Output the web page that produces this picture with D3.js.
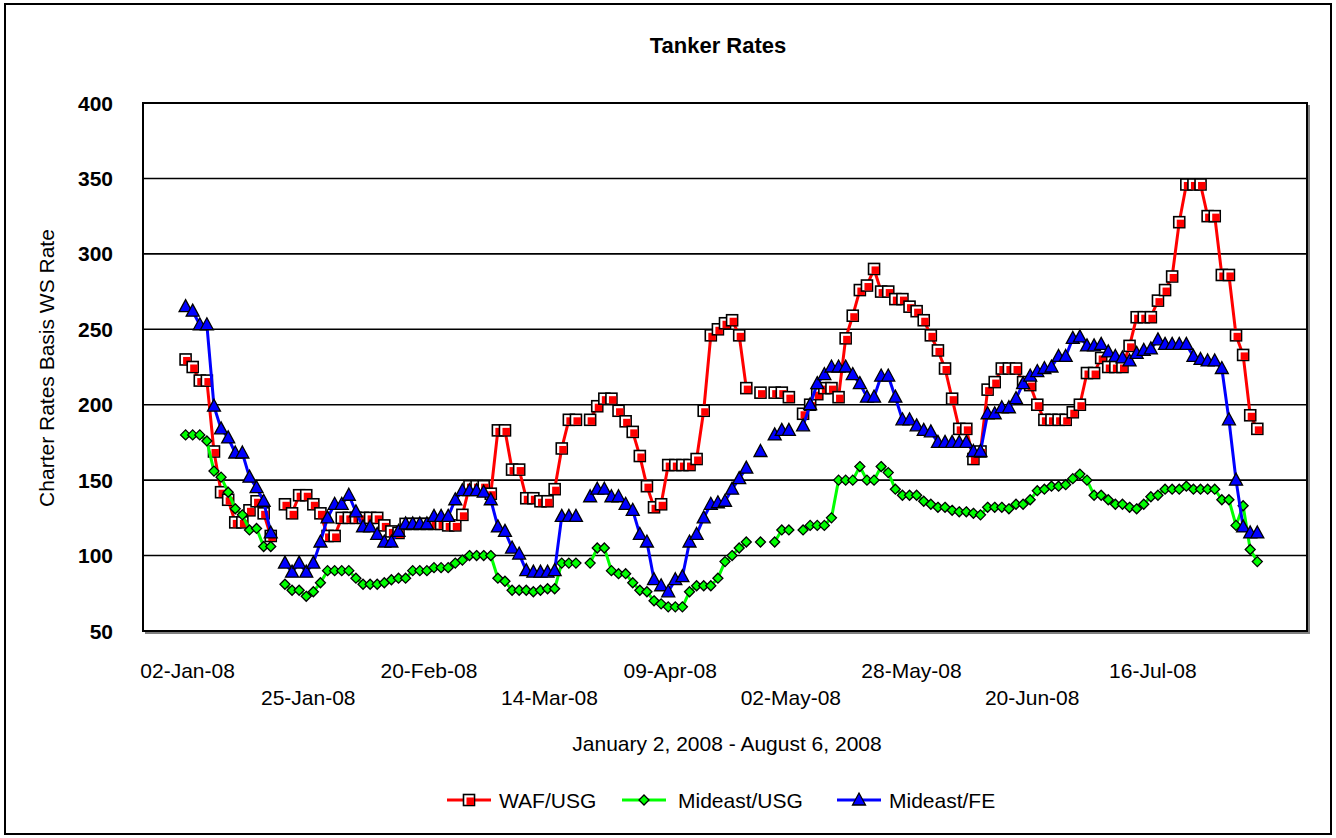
<!DOCTYPE html>
<html lang="en">
<head>
    <meta charset="UTF-8">
    <title>Tanker Rates</title>
    <script src="https://d3js.org/d3.v7.min.js"></script>
    <style>
        body { margin: 0; background: #fff; }
        text { font-family: "Liberation Sans", Arial, sans-serif; fill: #000; }
        .tick-y { font-size: 21px; font-weight: bold; }
        .tick-x { font-size: 21px; }
    </style>
</head>
<body>
<svg width="1336" height="838"></svg>
<script>
// business-day rows, null = blank row (holiday / no quote)
const waf = [230,225,216,216,169,142,137,122,122,130,136,128,113,null,
    134,128,140,140,134,128,113,113,125,125,125,125,125,125,120,116,115,121,121,121,121,121,121,120,120,127,
    146,146,146,141,183,183,157,157,138,138,136,136,144,171,190,190,null,
    190,199,204,204,196,189,182,166,146,132,134,160,160,160,160,164,196,246,250,254,256,246,211,null,
    208,null,208,208,205,null,
    194,200,207,211,211,205,244,259,276,279,290,275,275,270,270,265,262,256,246,236,224,204,184,184,164,169,
    210,215,224,224,224,215,213,200,190,190,190,190,195,200,221,221,231,225,225,225,239,258,258,258,269,276,285,
    321,346,346,346,325,325,286,286,246,233,193,184];

const meUsg = [180,180,180,176,156,152,142,131,127,117,118,106,106,null,
    81,77,77,73,76,82,90,90,90,90,85,81,81,81,82,84,85,85,90,90,90,92,92,92,95,97,
    100,100,100,100,85,83,77,77,77,76,77,78,78,95,95,95,null,
    95,105,105,90,88,88,82,77,76,70,68,66,66,66,76,80,80,80,85,96,100,105,109,null,
    109,null,109,117,117,null,
    117,120,120,120,125,150,150,150,159,150,150,159,155,144,140,140,140,136,134,132,132,130,129,129,128,127,
    132,132,132,131,134,134,137,143,144,146,146,147,151,154,150,140,140,137,134,134,132,131,134,139,140,144,144,
    144,146,144,144,144,144,137,137,120,133,104,96];

const meFe = [265,262,253,253,199,184,178,168,168,152,145,136,115,null,
    95,89,95,89,95,109,125,134,134,140,129,119,119,114,109,109,116,121,121,121,121,126,126,126,137,143,
    143,143,142,137,119,116,105,101,90,89,89,89,90,126,126,126,null,
    139,144,144,139,139,134,130,114,109,84,80,76,84,86,109,114,125,134,135,136,144,151,158,null,
    169,null,180,183,183,null,
    186,200,214,220,225,225,225,220,214,205,205,219,219,205,190,190,186,183,182,175,175,175,175,175,169,169,
    194,194,198,198,204,214,219,222,224,225,232,232,244,245,239,239,240,235,232,231,229,234,236,237,243,240,240,
    240,240,232,230,229,229,224,190,150,119,115,115];

const tickRows = [0, 17, 34, 51, 68, 85, 102, 119, 136];
const tickLabels = ["02-Jan-08", "25-Jan-08", "20-Feb-08", "14-Mar-08", "09-Apr-08",
    "02-May-08", "28-May-08", "20-Jun-08", "16-Jul-08"];
const yTicks = [50, 100, 150, 200, 250, 300, 350, 400];
const seriesNames = ["WAF/USG", "Mideast/USG", "Mideast/FE"];

const svg = d3.select("svg");
const plotL = 143, plotR = 1307, plotT = 103, plotB = 631;

const x = d3.scaleLinear().domain([-6, 158]).range([plotL, plotR]);
const y = d3.scaleLinear().domain([50, 400]).range([plotB, plotT]);

// outer chart frame
svg.append("rect").attr("x", 5).attr("y", 4).attr("width", 1326).attr("height", 830)
    .attr("fill", "#fff").attr("stroke", "#000").attr("stroke-width", 2);

svg.append("text").attr("x", 718).attr("y", 53).attr("text-anchor", "middle")
    .style("font-size", "22px").style("font-weight", "bold").text("Tanker Rates");

// plot area shadow + box
svg.append("path").attr("d", `M${plotL + 2},${plotB + 2}H${plotR + 2}V${plotT + 2}`)
    .attr("fill", "none").attr("stroke", "#808080").attr("stroke-width", 2);
svg.append("rect").attr("x", plotL).attr("y", plotT).attr("width", plotR - plotL).attr("height", plotB - plotT)
    .attr("fill", "#fff").attr("stroke", "#000").attr("stroke-width", 2);

// gridlines
svg.append("g").selectAll("line").data(yTicks.filter(d => d > 50 && d < 400)).enter().append("line")
    .attr("x1", plotL).attr("x2", plotR)
    .attr("y1", d => y(d)).attr("y2", d => y(d))
    .attr("stroke", "#000").attr("stroke-width", 1.6);

// y tick labels
svg.append("g").selectAll("text").data(yTicks).enter().append("text")
    .attr("class", "tick-y")
    .attr("x", 113).attr("y", d => y(d)).attr("dy", "0.36em")
    .attr("text-anchor", "end").text(d => d);

// x tick labels, staggered in two rows
svg.append("g").selectAll("text").data(tickRows).enter().append("text")
    .attr("class", "tick-x")
    .attr("x", d => x(d) + 2)
    .attr("y", (d, i) => i % 2 === 0 ? 678 : 705)
    .attr("text-anchor", "middle")
    .text((d, i) => tickLabels[i]);

svg.append("text").attr("x", 727).attr("y", 751).attr("text-anchor", "middle")
    .style("font-size", "21px").text("January 2, 2008 - August 6, 2008");

svg.append("text").attr("transform", "translate(54,368) rotate(-90)")
    .attr("text-anchor", "middle").style("font-size", "21px")
    .text("Charter Rates Basis WS Rate");

// marker painters
function drawSquare(g, cx, cy) {
    g.append("rect").attr("x", cx - 5.5).attr("y", cy - 5.5).attr("width", 11).attr("height", 11)
        .attr("fill", "#fff").attr("stroke", "#000").attr("stroke-width", 1.6);
    g.append("rect").attr("x", cx - 2.5).attr("y", cy - 2.5).attr("width", 7.5).attr("height", 7.5)
        .attr("fill", "#ff0000");
}
function drawDiamond(g, cx, cy) {
    g.append("path").attr("d", `M${cx},${cy - 5}L${cx + 5},${cy}L${cx},${cy + 5}L${cx - 5},${cy}Z`)
        .attr("fill", "#00ff00").attr("stroke", "#000").attr("stroke-width", 1.3);
}
function drawTriangle(g, cx, cy) {
    g.append("path").attr("d", `M${cx},${cy - 7}L${cx + 6.5},${cy + 5}L${cx - 6.5},${cy + 5}Z`)
        .attr("fill", "#0000ff").attr("stroke", "#000").attr("stroke-width", 1.3);
}

const series = [
    {name: seriesNames[0], values: waf, color: "#ff0000", marker: drawSquare},
    {name: seriesNames[1], values: meUsg, color: "#00ff00", marker: drawDiamond},
    {name: seriesNames[2], values: meFe, color: "#0000ff", marker: drawTriangle}
];

const line = d3.line()
    .defined(d => d != null)
    .x((d, i) => x(i))
    .y(d => y(d));

series.forEach(s => {
    const g = svg.append("g");
    g.append("path").datum(s.values)
        .attr("d", line)
        .attr("fill", "none").attr("stroke", s.color).attr("stroke-width", 3)
        .attr("stroke-linejoin", "round");
    s.values.forEach((v, i) => {
        if (v != null) s.marker(g, x(i), y(v));
    });
});

// legend
const legendItems = [
    {x0: 447, tx: 499},
    {x0: 622, tx: 678},
    {x0: 837, tx: 889}
];
series.forEach((s, i) => {
    const g = svg.append("g");
    const lx = legendItems[i].x0;
    g.append("line").attr("x1", lx).attr("x2", lx + 44).attr("y1", 800).attr("y2", 800)
        .attr("stroke", s.color).attr("stroke-width", 3);
    s.marker(g, lx + 22, 800);
    g.append("text").attr("x", legendItems[i].tx).attr("y", 800).attr("dy", "0.36em")
        .style("font-size", "21px").text(s.name);
});
</script>
</body>
</html>
